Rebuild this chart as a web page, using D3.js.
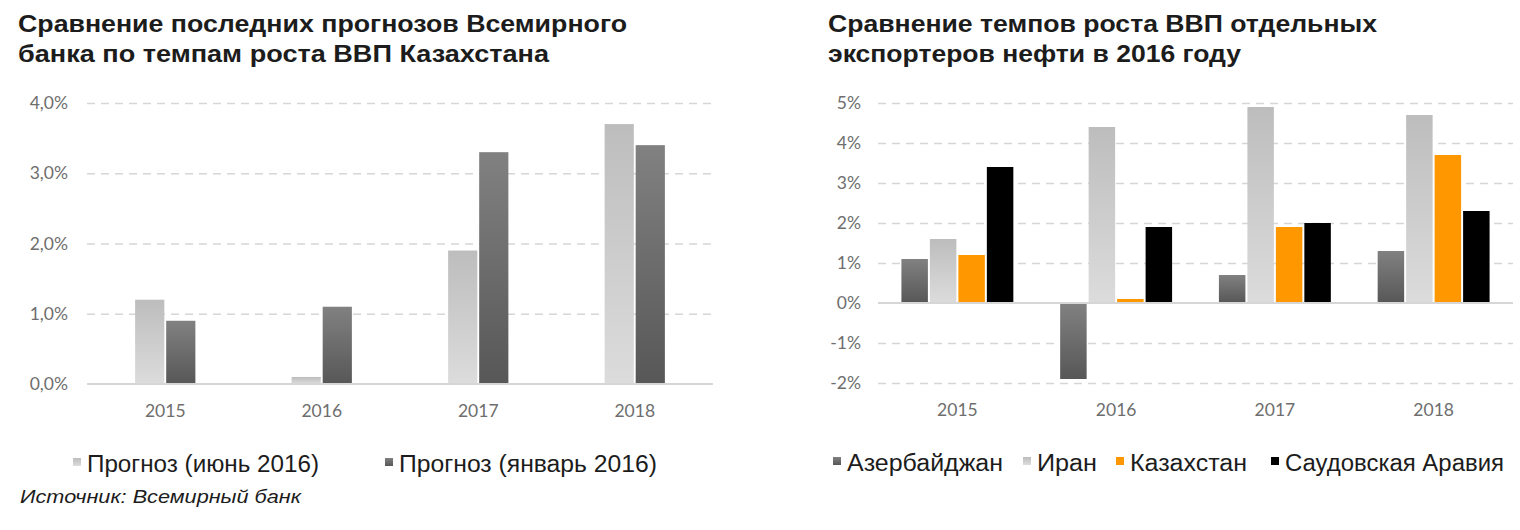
<!DOCTYPE html>
<html><head><meta charset="utf-8">
<script src="https://cdn.jsdelivr.net/npm/d3@7"></script>
<style>
html,body{margin:0;padding:0;background:#fff;}
svg{display:block;}
</style></head>
<body>
<svg id="c" width="1520" height="530"></svg>
<script>
// ---- Left chart data ----
const leftTitle = ["Сравнение последних прогнозов Всемирного", "банка по темпам роста ВВП Казахстана"];
const leftYears = ["2015", "2016", "2017", "2018"];
const leftSeries = ["Прогноз (июнь 2016)", "Прогноз (январь 2016)"];
const juneForecast = [1.2, 0.1, 1.9, 3.7];
const janForecast = [0.9, 1.1, 3.3, 3.4];
const leftTicks = [0, 1, 2, 3, 4];
const leftTickLabels = ["0,0%", "1,0%", "2,0%", "3,0%", "4,0%"];
const sourceText = "Источник: Всемирный банк";

// ---- Right chart data ----
const rightTitle = ["Сравнение темпов роста ВВП отдельных", "экспортеров нефти в 2016 году"];
const rightYears = ["2015", "2016", "2017", "2018"];
const rightSeries = ["Азербайджан", "Иран", "Казахстан", "Саудовская Аравия"];
const azerbaijan = [1.1, -1.9, 0.7, 1.3];
const iran = [1.6, 4.4, 4.9, 4.7];
const kazakhstan = [1.2, 0.1, 1.9, 3.7];
const saudi = [3.4, 1.9, 2.0, 2.3];
const rightTicks = [-2, -1, 0, 1, 2, 3, 4, 5];
const rightTickLabels = ["-2%", "-1%", "0%", "1%", "2%", "3%", "4%", "5%"];

const svg = d3.select("#c");
const defs = svg.append("defs");
function grad(id, top, bottom) {
  const g = defs.append("linearGradient").attr("id", id).attr("x1", 0).attr("y1", 0).attr("x2", 0).attr("y2", 1);
  g.append("stop").attr("offset", "0%").attr("stop-color", top);
  g.append("stop").attr("offset", "100%").attr("stop-color", bottom);
}
grad("gLight", "#bdbdbd", "#dcdcdc");
grad("gDark", "#818181", "#575757");

const titleFont = "'Liberation Sans', Arial, sans-serif";
const tickFont = "Lato, 'Open Sans', sans-serif";
const tickColor = "#6e6e6e";
const gridColor = "#d6d6d6";
const textColor = "#1c1c1c";

// fit a text element to a target width (reference text is slightly wider than the local font)
function fit(sel, w) {
  sel.attr("textLength", w).attr("lengthAdjust", "spacingAndGlyphs");
}

function drawTitle(lines, x, widths) {
  svg.append("g").selectAll("text").data(lines).join("text")
    .attr("x", x).attr("y", (d, i) => 32 + i * 30)
    .attr("font-family", titleFont).attr("font-weight", "bold").attr("font-size", 24.5)
    .attr("fill", textColor).text(d => d)
    .each(function (d, i) { fit(d3.select(this), widths[i]); });
}

function drawChart(opts) {
  const g = svg.append("g");
  const x = d3.scaleBand().domain(opts.years).range(opts.xr).paddingInner(opts.pad).paddingOuter(opts.pad / 2);
  const xs = d3.scaleBand().domain(d3.range(opts.series.length)).range([0, x.bandwidth()]).paddingInner(opts.subPad);
  const y = d3.scaleLinear().domain(opts.yd).range(opts.yr);
  // grid
  const yAxis = d3.axisLeft(y).tickValues(opts.ticks).tickSize(-(opts.xr[1] - opts.xr[0])).tickPadding(opts.tickPad)
    .tickFormat((d, i) => opts.tickLabels[i]);
  const ga = g.append("g").attr("transform", `translate(${opts.xr[0]},0)`).call(yAxis);
  ga.select(".domain").remove();
  ga.selectAll(".tick line").attr("stroke", gridColor).attr("stroke-width", 1.3).attr("stroke-dasharray", "8,6")
    .attr("display", d => d === 0 ? "none" : null);
  ga.selectAll(".tick text").attr("font-family", tickFont).attr("font-size", 17.5).attr("fill", tickColor);
  // bars
  opts.values.forEach((vals, si) => {
    g.append("g").selectAll("rect").data(vals).join("rect")
      .attr("x", (d, i) => x(opts.years[i]) + xs(si))
      .attr("width", xs.bandwidth())
      .attr("y", d => d >= 0 ? y(d) : y(0))
      .attr("height", d => Math.abs(y(d) - y(0)))
      .attr("fill", opts.fills[si]);
  });
  // zero line
  g.append("line").attr("x1", opts.xr[0]).attr("x2", opts.xr[1]).attr("y1", y(0)).attr("y2", y(0))
    .attr("stroke", gridColor).attr("stroke-width", 2);
  // x labels
  const xAxis = d3.axisBottom(x).tickSize(0).tickPadding(0);
  const gx = g.append("g").attr("transform", `translate(0,${opts.xLabelY})`).call(xAxis);
  gx.select(".domain").remove();
  gx.selectAll(".tick text").attr("font-family", tickFont).attr("font-size", 17.5).attr("fill", tickColor).attr("dy", "0.32em");
}

drawTitle(leftTitle, 18, [609, 531]);
drawTitle(rightTitle, 828, [549, 413]);

drawChart({
  years: leftYears, series: leftSeries, values: [juneForecast, janForecast],
  fills: ["url(#gLight)", "url(#gDark)"],
  xr: [87, 713], pad: 0.615, subPad: 0.06,
  yd: [0, 4], yr: [384, 103], ticks: leftTicks, tickLabels: leftTickLabels, tickPad: 19,
  xLabelY: 411
});

drawChart({
  years: rightYears, series: rightSeries, values: [azerbaijan, iran, kazakhstan, saudi],
  fills: ["url(#gDark)", "url(#gLight)", "#ff9800", "#000000"],
  xr: [878, 1513], pad: 0.295, subPad: 0.07,
  yd: [-2, 5], yr: [383, 103], ticks: rightTicks, tickLabels: rightTickLabels, tickPad: 17,
  xLabelY: 410
});

// legends
function legend(items, fills, xs, widths, yBase) {
  const g = svg.append("g");
  items.forEach((t, i) => {
    g.append("rect").attr("x", xs[i]).attr("y", yBase - 14).attr("width", 8).attr("height", 8).attr("fill", fills[i]);
    const tx = g.append("text").attr("x", xs[i] + 14).attr("y", yBase)
      .attr("font-family", titleFont).attr("font-size", 23).attr("fill", textColor).text(t);
    fit(tx, widths[i]);
  });
}
legend(leftSeries, ["url(#gLight)", "url(#gDark)"], [73, 385], [232, 258], 472);
legend(rightSeries, ["url(#gDark)", "url(#gLight)", "#ff9800", "#000000"], [833, 1023, 1116, 1271], [156, 60, 117, 219], 471);

const src = svg.append("text").attr("x", 20).attr("y", 503)
  .attr("font-family", titleFont).attr("font-style", "italic").attr("font-size", 19).attr("fill", textColor)
  .text(sourceText);
fit(src, 281);
</script>
</body></html>
